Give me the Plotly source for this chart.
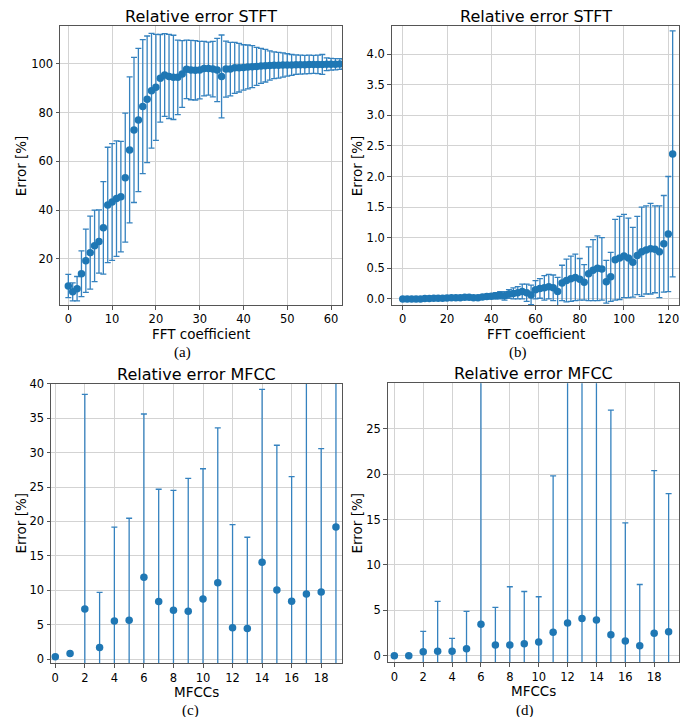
import plotly.graph_objects as go

# the page body adds an 8px margin, so the figure is drawn 8px in from the corner
OFF = 8
W, H = 691 - OFF, 717 - OFF
BLUE = '#1f77b4'
ERR_BLUE = '#3582bf'

# (a) STFT relative error, first 64 FFT coefficients
stft_a_x = list(range(64))
stft_a_mean = [8.8, 6.4, 7.7, 13.8, 19.2, 22.5, 25.3, 27.1, 32.7, 42.1,
               43.3, 44.7, 45.5, 53.3, 64.7, 72.9, 77.0, 82.5, 85.5, 89.0,
               90.4, 94.1, 95.5, 94.9, 94.5, 94.5, 95.9, 97.8, 97.5, 97.4,
               97.5, 98.1, 98.1, 97.9, 97.5, 94.9, 97.9, 97.9, 98.4, 98.5,
               98.6, 98.8, 98.9, 99.0, 99.2, 99.3, 99.4, 99.5, 99.5, 99.6,
               99.6, 99.6, 99.7, 99.7, 99.7, 99.8, 99.8, 99.8, 99.8, 99.9,
               99.9, 99.9, 100.0, 100.0]
stft_a_std = [4.8, 3.7, 5.0, 9.4, 13.0, 15.0, 14.7, 13.0, 19.0, 23.7,
              24.0, 23.7, 22.7, 26.5, 30.0, 29.8, 29.4, 27.5, 26.0, 23.6,
              21.8, 18.0, 17.0, 17.3, 17.3, 15.3, 13.7, 12.0, 12.2, 12.2,
              11.8, 11.2, 10.9, 11.4, 13.0, 17.0, 11.5, 11.0, 10.5, 10.0,
              9.3, 9.0, 8.6, 7.8, 7.2, 6.7, 6.0, 5.5, 5.3, 5.0,
              4.6, 4.3, 4.0, 3.9, 3.8, 3.8, 3.7, 3.8, 4.1, 2.6,
              2.4, 2.3, 2.2, 2.0]

# (b) STFT relative error, every second coefficient 0..122
stft_b_x = list(range(0, 123, 2))
stft_b_mean = [0.0, 0.0, 0.0, 0.0, 0.0, 0.005, 0.005, 0.01, 0.01, 0.01,
               0.015, 0.02, 0.02, 0.02, 0.025, 0.025, 0.02, 0.02, 0.03, 0.04,
               0.045, 0.05, 0.06, 0.05, 0.08, 0.09, 0.10, 0.12, 0.10, 0.065,
               0.15, 0.17, 0.18, 0.20, 0.18, 0.12, 0.26, 0.30, 0.33, 0.35,
               0.32, 0.27, 0.41, 0.47, 0.50, 0.49, 0.28, 0.36, 0.64, 0.67,
               0.70, 0.67, 0.60, 0.71, 0.77, 0.80, 0.82, 0.81, 0.77, 0.90,
               1.06, 2.37]
stft_b_std = [0.01, 0.01, 0.01, 0.01, 0.01, 0.015, 0.015, 0.015, 0.015, 0.015,
              0.015, 0.02, 0.02, 0.02, 0.02, 0.02, 0.02, 0.02, 0.03, 0.035,
              0.04, 0.05, 0.06, 0.07, 0.07, 0.09, 0.10, 0.12, 0.14, 0.16,
              0.15, 0.16, 0.20, 0.20, 0.21, 0.23, 0.29, 0.35, 0.37, 0.38,
              0.34, 0.29, 0.44, 0.50, 0.53, 0.51, 0.35, 0.40, 0.66, 0.68,
              0.68, 0.65, 0.57, 0.64, 0.73, 0.72, 0.74, 0.71, 0.75, 0.79,
              0.94, 2.01]

# (c) MFCC relative error
mfcc_c_x = list(range(20))
mfcc_c_mean = [0.34, 0.82, 7.3, 1.7, 5.56, 5.66, 11.9, 8.37, 7.1, 6.96,
               8.75, 11.08, 4.55, 4.45, 14.07, 10.06, 8.42, 9.48, 9.77, 19.2]
mfcc_c_std = [0.15, 0.2, 31.15, 8.0, 13.6, 14.8, 23.7, 16.3, 17.4, 19.3,
              18.9, 22.5, 15.0, 13.25, 25.1, 21.0, 18.1, 36.0, 20.8, 25.0]

# (d) MFCC relative error
mfcc_d_x = list(range(20))
mfcc_d_mean = [0.0, 0.0, 0.44, 0.48, 0.48, 0.77, 3.45, 1.17, 1.17, 1.32,
               1.5, 2.57, 3.59, 4.1, 3.92, 2.31, 1.61, 1.1, 2.46, 2.64]
mfcc_d_std = [0.05, 0.05, 2.24, 5.5, 1.43, 4.11, 30.0, 4.15, 6.42, 5.75,
              4.99, 17.23, 30.0, 30.0, 30.0, 24.74, 13.02, 6.74, 17.92, 15.21]

titles = ['Relative error STFT', 'Relative error STFT',
          'Relative error MFCC', 'Relative error MFCC']
xlabels = ['FFT coefficient', 'FFT coefficient', 'MFCCs', 'MFCCs']
captions = ['(a)', '(b)', '(c)', '(d)']

# plot areas in page pixels: left, right, top, bottom
boxes = [(60, 342, 26, 305), (391.7, 679.3, 26, 305),
         (51, 342.3, 383.7, 663.3), (387.7, 679.3, 383.3, 662.3)]
xranges = [[-1.9, 62.5], [-5, 125], [-0.29, 19.43], [-0.46, 19.74]]
yranges = [[1.0, 115.6], [-0.1, 4.46], [-0.6, 40], [-0.73, 30]]
xticks = [list(range(0, 61, 10)), list(range(0, 121, 20)),
          list(range(0, 19, 2)), list(range(0, 19, 2))]
yticks = [[20, 40, 60, 80, 100], [0, 0.5, 1, 1.5, 2, 2.5, 3, 3.5, 4],
          list(range(0, 41, 5)), list(range(0, 26, 5))]
yfmt = ['d', '.1f', 'd', 'd']
ylabel_x = [20.7, 356.7, 20, 356.7]
caption_pos = [(182, 352), (518, 352), (190, 710), (525, 710)]

data = [(stft_a_x, stft_a_mean, stft_a_std), (stft_b_x, stft_b_mean, stft_b_std),
        (mfcc_c_x, mfcc_c_mean, mfcc_c_std), (mfcc_d_x, mfcc_d_mean, mfcc_d_std)]


def px(x):
    return (x - OFF) / W


def py(y):
    return 1 - (y - OFF) / H


FONT = 'DejaVu Sans'
fig = go.Figure()
annotations = []

for i, (xs, ys, es) in enumerate(data):
    n = '' if i == 0 else str(i + 1)
    fig.add_trace(go.Scatter(
        x=xs, y=ys, mode='markers',
        marker=dict(color=BLUE, size=7.5),
        error_y=dict(type='data', array=es, symmetric=True,
                     color=ERR_BLUE, thickness=1.3, width=3),
        xaxis='x' + n, yaxis='y' + n, showlegend=False,
    ))
    l, r, t, b = boxes[i]
    common = dict(showline=True, mirror=True, linecolor='#555555', linewidth=1,
                  ticks='outside', ticklen=3.5, tickcolor='#555555',
                  showgrid=True, gridcolor='#d3d3d3', gridwidth=1, zeroline=False,
                  tickfont=dict(family=FONT, size=11.5, color='black'))
    fig.update_layout(**{
        'xaxis' + n: dict(domain=[px(l), px(r)], anchor='y' + n, range=xranges[i],
                          tickvals=xticks[i], **common),
        'yaxis' + n: dict(domain=[py(b), py(t)], anchor='x' + n, range=yranges[i],
                          tickvals=yticks[i], tickformat=yfmt[i], **common),
    })
    cx = (l + r) / 2
    annotations.append(dict(text=titles[i], x=px(cx), y=py(t - 9.4),
                            xref='paper', yref='paper', showarrow=False,
                            xanchor='center', yanchor='middle',
                            font=dict(family=FONT, size=16, color='black')))
    annotations.append(dict(text=xlabels[i], x=px(cx), y=py(b + 28.5),
                            xref='paper', yref='paper', showarrow=False,
                            xanchor='center', yanchor='middle',
                            font=dict(family=FONT, size=13.5, color='black')))
    annotations.append(dict(text='Error [%]', x=px(ylabel_x[i]), y=py((t + b) / 2),
                            xref='paper', yref='paper', showarrow=False, textangle=-90,
                            xanchor='center', yanchor='middle',
                            font=dict(family=FONT, size=13.5, color='black')))
    cpx, cpy = caption_pos[i]
    annotations.append(dict(text=captions[i], x=px(cpx), y=py(cpy),
                            xref='paper', yref='paper', showarrow=False,
                            xanchor='center', yanchor='middle',
                            font=dict(family='Liberation Serif', size=15, color='black')))

fig.update_layout(
    width=W, height=H,
    margin=dict(l=0, r=0, t=0, b=0),
    paper_bgcolor='white', plot_bgcolor='white',
    template='none',
    annotations=annotations,
)

fig.write_html('out.html')
